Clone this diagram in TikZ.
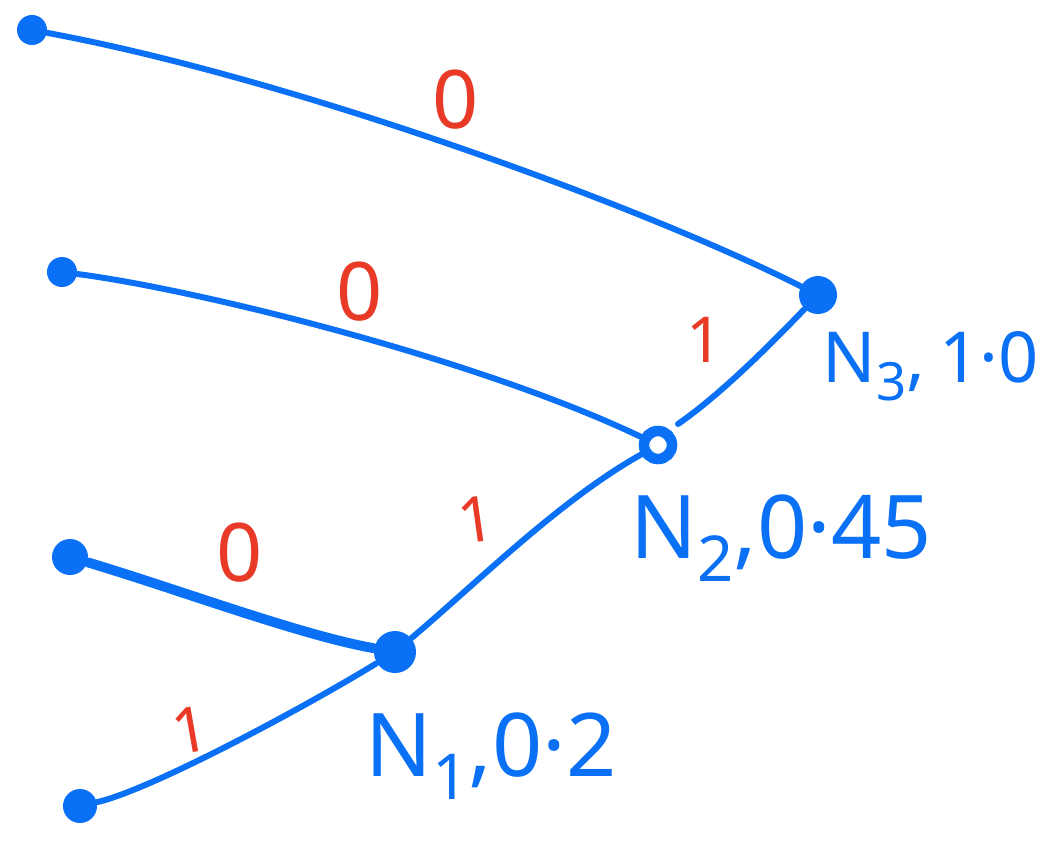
\documentclass[tikz,border=0pt]{standalone}
\usepackage{fontspec}
\setmainfont{Noto Sans}
\definecolor{pen}{RGB}{10,112,245}
\definecolor{redpen}{RGB}{232,58,38}
\newcommand\subdig[2]{\raisebox{-0.5ex}{\fontsize{#1}{#1}\selectfont #2}}
\begin{document}
\begin{tikzpicture}[x=0.01cm,y=-0.01cm,
  edge/.style={draw=pen,line width=1.7pt,line cap=round},
  leaf/.style={circle,fill=pen,inner sep=0pt,minimum size=0.3cm},
  inner/.style={circle,fill=pen,inner sep=0pt},
  bit/.style={text=redpen,font=\fontsize{23}{23}\selectfont,inner sep=0pt},
  onebit/.style={text=redpen,font=\fontsize{18}{18}\selectfont,inner sep=0pt},
  lab/.style={text=pen,inner sep=0pt,anchor=base west}]
\useasboundingbox[fill=white] (0,0) rectangle (1049,845);

% nodes
\node[leaf] (A) at (32,30) {};
\node[leaf] (B) at (62,272) {};
\node[leaf,minimum size=0.36cm] (C) at (70,557) {};
\node[leaf,minimum size=0.34cm] (D) at (80,806) {};
\node[inner,minimum size=0.38cm] (N3) at (818,295) {};
\node[circle,draw=pen,line width=3pt,fill=white,inner sep=0pt,minimum size=0.28cm] (N2) at (658,445) {};
\node[inner,minimum size=0.42cm] (N1) at (395,652) {};
\coordinate (N2b) at (678,424);

% edges
\draw[edge] (A) .. controls (300,80) and (650,210) .. (N3);
\draw[edge] (B) .. controls (200,290) and (480,360) .. (N2);
\draw[edge,line width=2.8pt] (C) .. controls (180,590) and (300,635) .. (N1);
\draw[edge] (D) .. controls (150,790) and (300,710) .. (N1);
\draw[edge] (N1) .. controls (480,580) and (560,500) .. (N2);
\draw[edge] (N2b) .. controls (720,395) and (770,345) .. (N3);

% bit labels
\node[bit] (b1) at (456,100) {0};
\node[bit] (b2) at (360,292) {0};
\node[bit] (b3) at (240,553) {0};
\node[onebit,rotate=10] (b4) at (190,730) {1};
\node[onebit,rotate=8] (b5) at (476,520) {1};
\node[onebit] (b6) at (705,340) {1};

% weight labels
\node[lab,font=\fontsize{20}{20}\selectfont] (l3) at (822,382) {N\subdig{15}{3},\hspace{0.2em}1·0};
\node[lab,font=\fontsize{25}{25}\selectfont] (l2) at (630,558) {N\subdig{18}{2},0·45};
\node[lab,font=\fontsize{25}{25}\selectfont] (l1) at (365,776) {N\subdig{18}{1},0·2};
\end{tikzpicture}
\end{document}
